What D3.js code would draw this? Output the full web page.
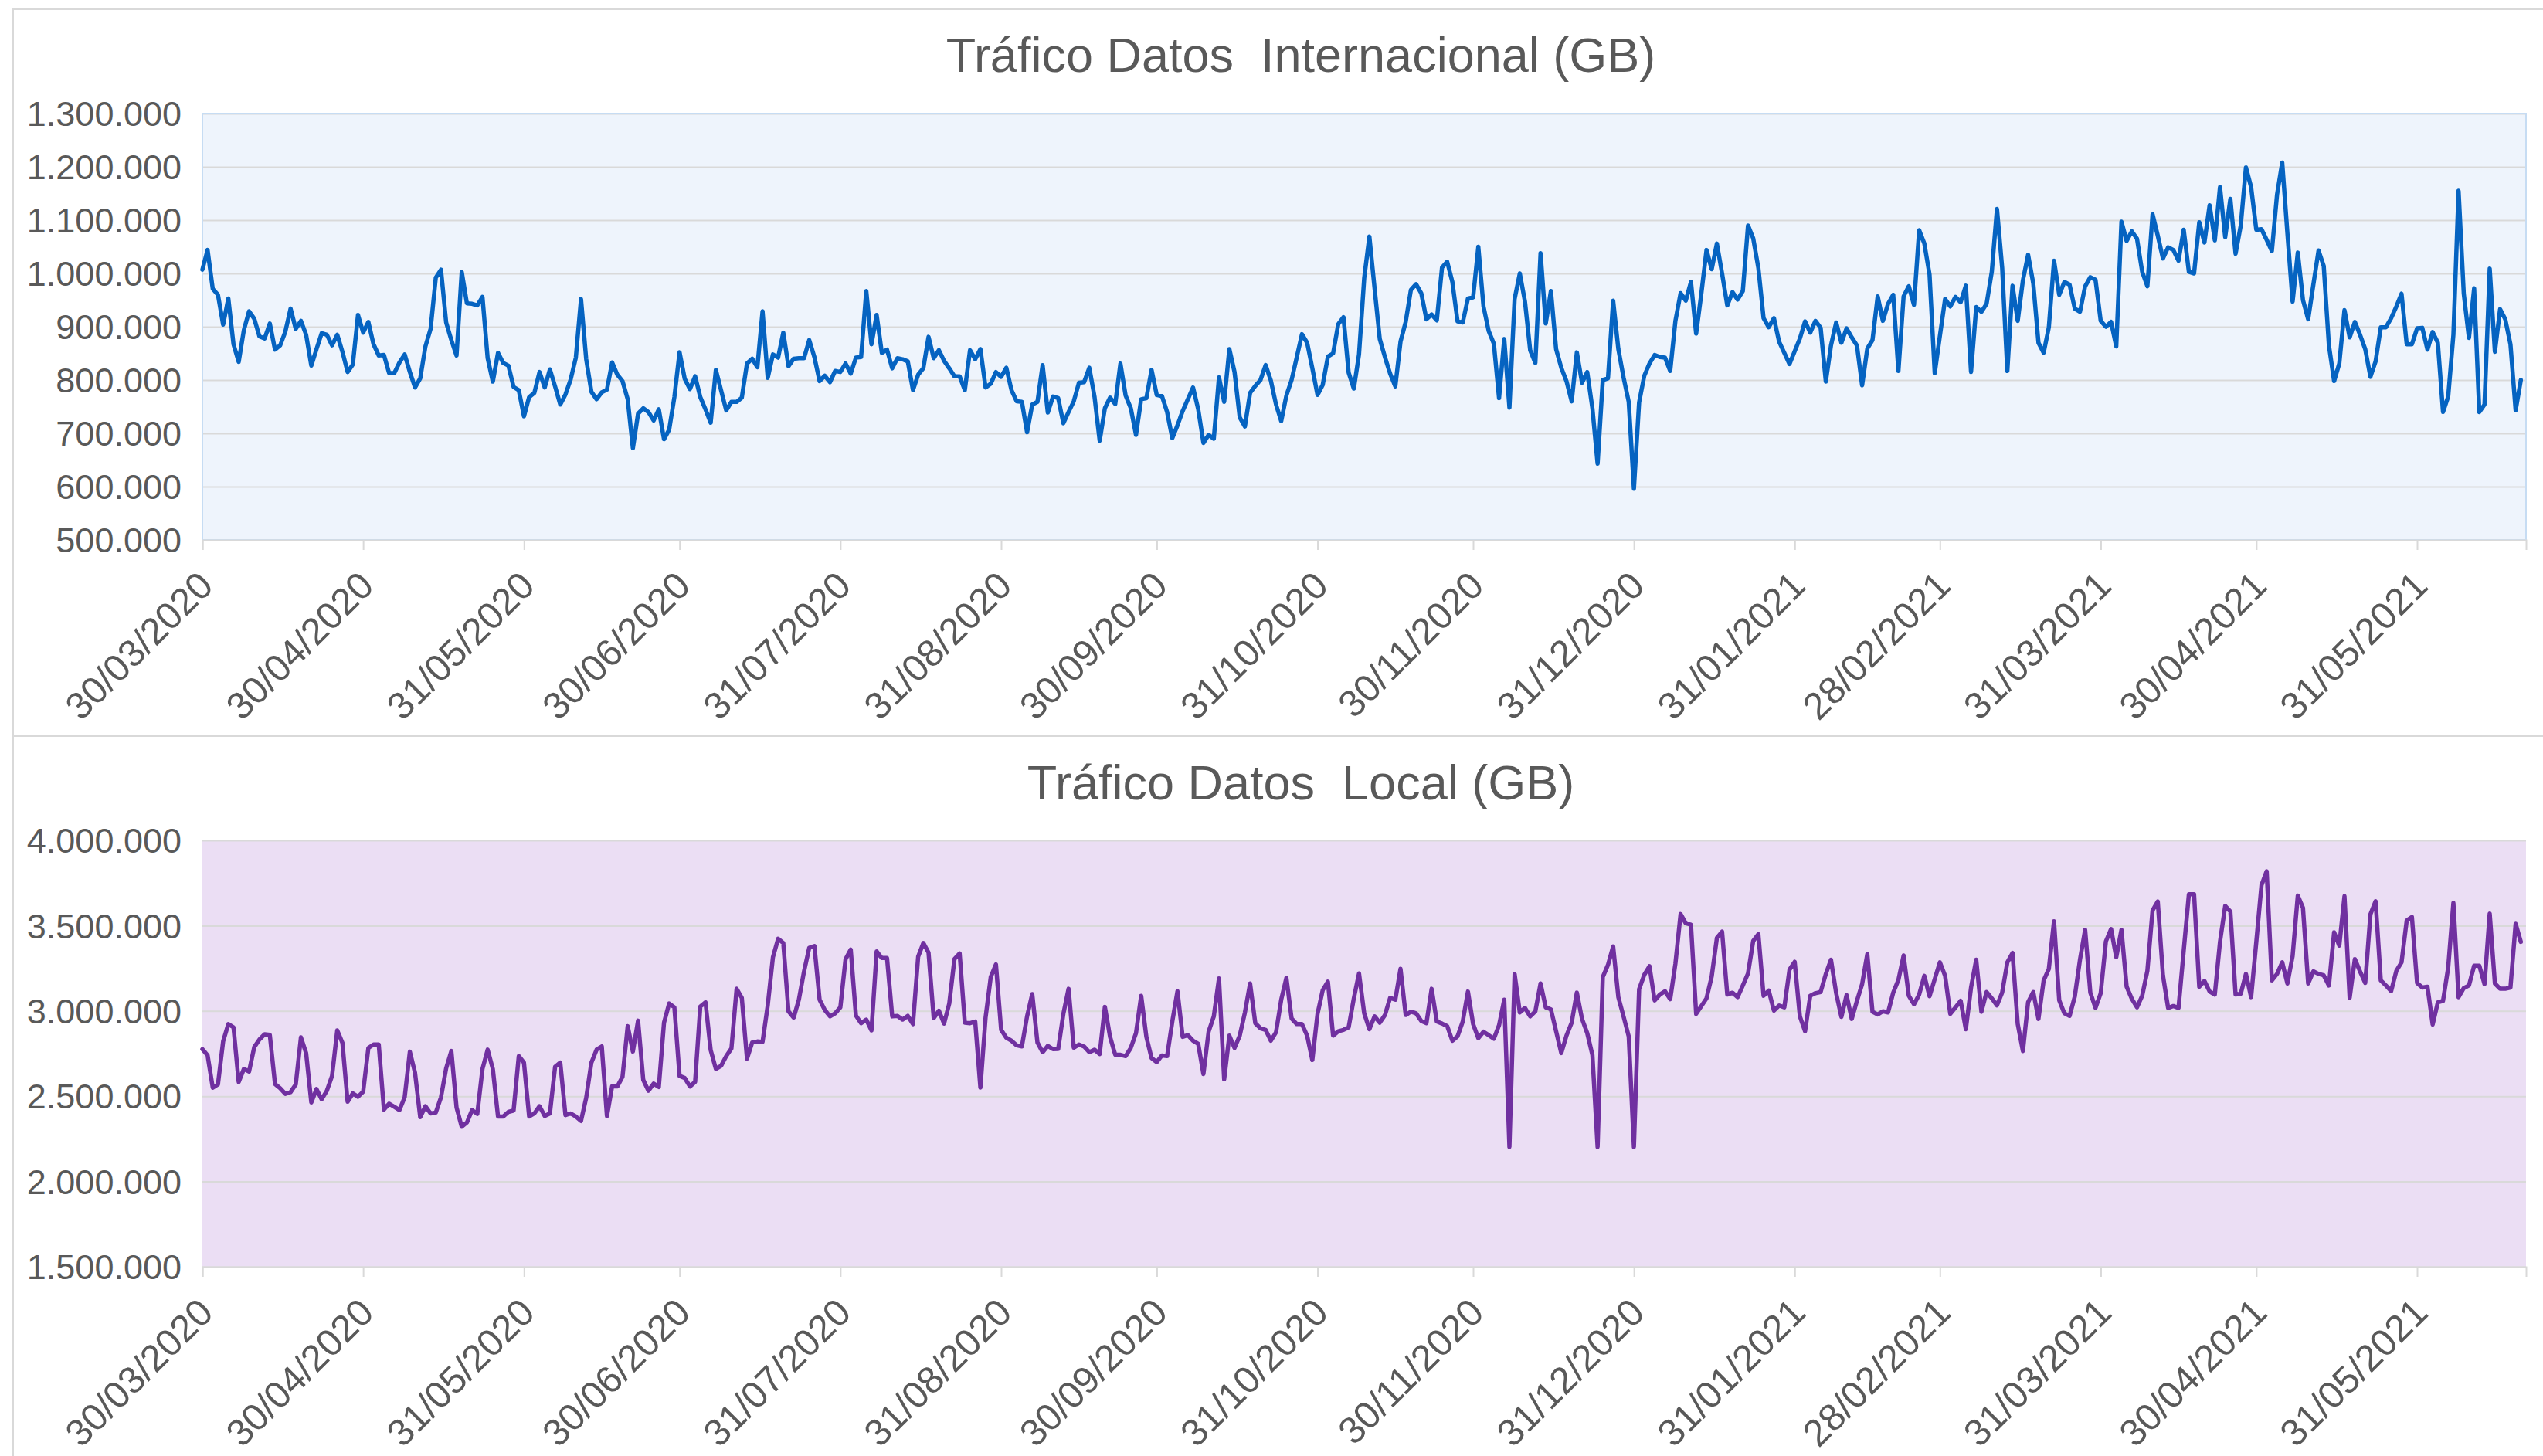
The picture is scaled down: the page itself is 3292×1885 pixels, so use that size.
<!DOCTYPE html>
<html>
<head>
<meta charset="utf-8">
<script src="https://cdn.jsdelivr.net/npm/d3@7"></script>
<style>
  body { margin: 0; background: #fff; }
  text { font-family: "Liberation Sans", Arial, sans-serif; fill: #595959; }
</style>
</head>
<body>
<div id="chart"></div>
<script>
// fechas: un valor por dia desde startDate
var startDate = "30/03/2020"
var endDate = "21/06/2021"
var xTickLabels = ["30/03/2020", "30/04/2020", "31/05/2020", "30/06/2020", "31/07/2020",
  "31/08/2020", "30/09/2020", "31/10/2020", "30/11/2020", "31/12/2020", "31/01/2021",
  "28/02/2021", "31/03/2021", "30/04/2021", "31/05/2021"]

var intlTicks = [500000, 600000, 700000, 800000, 900000, 1000000, 1100000, 1200000, 1300000]
var localTicks = [1500000, 2000000, 2500000, 3000000, 3500000, 4000000]

// miles de GB
var intlTraffic = [
  1007,1044,971,960,904,953,867,834,894,929,
  915,882,878,906,857,865,891,934,896,911,
  885,827,858,888,885,865,885,853,815,829,
  922,889,909,867,846,847,813,813,833,848,
  815,786,803,863,896,992,1007,908,875,846,
  1003,944,943,940,956,841,797,851,832,827,
  787,781,732,768,776,815,786,820,788,754,
  773,801,842,952,839,778,764,777,782,833,
  810,798,764,672,737,747,740,724,745,689,
  707,768,852,802,783,807,768,745,720,819,
  781,743,759,759,767,831,840,824,929,804,
  848,842,889,
  826,840,841,841,875,843,798,808,796,817,
  815,831,812,842,843,967,867,922,851,857,
  822,841,839,835,781,810,822,881,841,856,
  836,822,807,807,781,856,839,858,786,793,
  815,806,823,781,760,759,702,754,759,828,
  739,769,766,719,740,760,795,796,823,769,
  686,747,767,755,831,771,747,697,764,766,
  819,772,770,740,691,715,742,764,786,745,
  682,697,690,805,759,858,815,730,713,776,
  789,800,828,799,754,723,771,800,843,886,
  870,822,772,791,844,850,905,918,814,
  784,848,991,1069,972,877,843,812,788,872,
  909,969,980,963,914,923,912,1011,1022,984,
  910,908,953,955,1050,938,892,868,766,877,
  748,952,1000,947,856,832,1038,906,967,858,
  823,798,760,852,795,815,747,643,800,803,
  949,858,805,759,596,758,808,831,847,843,
  842,817,911,963,949,984,887,962,1044,1008,
  1056,1000,940,965,951,967,1090,1066,1010,916,
  899,916,872,851,830,854,878,910,889,911,
  898,797,865,908,870,897,880,865,790,859,
  875,957,911,943,960,817,957,976,941,1081,
  1056,998,
  813,883,952,938,956,946,977,815,937,928,
  943,1003,1121,1011,817,977,911,987,1035,981,
  870,851,899,1024,960,984,979,934,928,976,
  993,988,911,900,909,863,1097,1061,1079,1065,
  1003,976,1111,1071,1028,1049,1044,1024,1082,1003,
  1000,1096,1058,1128,1062,1162,1068,1140,1037,1090,
  1199,1162,1082,1083,1063,1042,1148,1208,1075,947,
  1039,950,914,979,1043,1014,865,798,831,931,
  880,909,885,858,806,835,899,899,916,938,
  962,867,867,897,898,857,890,870,740,769,
  885,1155,962,879,972,740,754,1009,853,933,
  914,867,743,800
]

var localTraffic = [
  2776,2740,2550,2569,2822,2923,2904,2584,2660,2645,
  2788,2833,2863,2860,2572,2547,2514,2524,2569,2845,
  2753,2464,2542,2482,2532,2619,2886,2813,2468,2517,
  2497,2527,2783,2803,2803,2422,2456,2438,2419,2494,
  2761,2637,2377,2441,2399,2404,2494,2664,2765,2434,
  2321,2346,2419,2396,2660,2773,2660,2381,2381,2408,
  2416,2735,2697,2381,2399,2441,2384,2399,2672,2697,
  2389,2399,2381,2355,2491,2697,2773,2792,2384,2559,
  2557,2614,2911,2762,2943,2596,2532,2574,2554,2931,
  3044,3021,2619,2607,2557,2584,3026,3051,2770,2660,
  2678,2735,2780,3130,3077,2720,2815,2821,2818,3032,
  3315,3423,3398,
  2998,2961,3066,3232,3370,3380,3066,3006,2968,2986,
  3021,3303,3360,2973,2928,2949,2886,3349,3310,3310,
  2968,2971,2949,2971,2923,3318,3398,3342,2958,3001,
  2926,3044,3304,3337,2931,2928,2938,2551,2961,3199,
  3273,2889,2843,2825,2798,2792,2968,3099,2815,2758,
  2795,2776,2777,2983,3130,2785,2803,2791,2758,2773,
  2747,3024,2848,2743,2743,2735,2783,2870,3089,2848,
  2724,2700,2739,2735,2938,3116,2848,2858,2825,2807,
  2630,2878,2968,3190,2599,2855,2783,2855,2991,3161,
  2928,2898,2889,2825,2875,3066,3194,2956,2923,2923,
  2855,2712,2983,3122,3172,2855,2881,2889,2904,3074,
  3220,
  2986,2893,2968,2931,2976,3077,3066,3247,2976,2996,
  2986,2941,2928,3130,2938,2926,2911,2825,2851,2938,
  3114,2923,2840,2878,2858,2837,2916,3066,2203,3217,
  2991,3018,2968,2998,3161,3021,3009,2881,2753,2855,
  2931,3108,2953,2870,2742,2203,3199,3270,3378,3081,
  2968,2851,2203,3127,3212,3262,3062,3096,3116,3069,
  3277,3568,3514,3506,2983,3029,3074,3202,3428,3465,
  3096,3107,3081,3149,3220,3410,3450,3089,3119,3002,
  3032,3021,3242,3288,2968,2881,3089,3104,3111,3217,
  3300,3104,2965,3093,2953,3059,3157,3333,2995,2979,
  2998,2991,3108,3182,3325,3089,3039,3096,3206,3086,
  3187,3285,
  3206,2983,3021,3059,2893,3137,3300,2995,3111,3074,
  3033,3108,3285,3340,2923,2765,3051,3111,2953,3179,
  3247,3526,3063,2986,2971,3084,3300,3476,3107,3018,
  3104,3408,3480,3315,3476,3142,3071,3021,3089,3236,
  3590,3642,3209,3017,3029,3017,3352,3684,3684,3142,
  3176,3114,3096,3405,3616,3583,3096,3101,3217,3081,
  3405,3737,3819,3179,3217,3285,3161,3322,3676,3604,
  3161,3232,3217,3209,3149,3461,3383,3673,3077,3304,
  3232,3164,3566,3643,3179,3149,3116,3235,3285,3530,
  3551,3164,3137,3142,2920,3051,3059,3255,3634,3081,
  3134,3149,3265,3265,3157,3571,3161,3130,3130,3137,
  3511,3405
]

var W = 3292, H = 1885
var parseDate = d3.utcParse("%d/%m/%Y")
var fmtDate = d3.utcFormat("%d/%m/%Y")
var es = d3.formatLocale({decimal: ",", thousands: ".", grouping: [3], currency: ["", " €"]})
var fmtNum = es.format(",.0f")

var start = parseDate(startDate)
var dates = intlTraffic.map((d, i) => d3.utcDay.offset(start, i))

var x = d3.scaleUtc()
  .domain([start, parseDate(endDate)])
  .range([262, 3270])

var svg = d3.select("#chart").append("svg")
  .attr("width", W)
  .attr("height", H)

var panels = [
  { title: "Tráfico Datos  Internacional (GB)", values: intlTraffic, ticks: intlTicks,
    boxTop: 12, boxBottom: 953, titleY: 93, top: 147, bottom: 699,
    fill: "#EEF4FC", border: "#C6DCF3", color: "#0563C1" },
  { title: "Tráfico Datos  Local (GB)", values: localTraffic, ticks: localTicks,
    boxTop: 953, boxBottom: 1960, titleY: 1035, top: 1088, bottom: 1640,
    fill: "#EBDEF4", border: "none", color: "#7030A0" }
]

panels.forEach(function (p) {
  var g = svg.append("g")

  // chart box
  g.append("rect")
    .attr("x", 17).attr("y", p.boxTop)
    .attr("width", W).attr("height", p.boxBottom - p.boxTop)
    .attr("fill", "#fff")
    .attr("stroke", "#D9D9D9")
    .attr("stroke-width", 2)

  g.append("text")
    .attr("x", 1684).attr("y", p.titleY)
    .attr("text-anchor", "middle")
    .style("white-space", "pre")
    .style("font-size", "63px")
    .text(p.title)

  var y = d3.scaleLinear()
    .domain(d3.extent(p.ticks))
    .range([p.bottom, p.top])

  // plot area
  g.append("rect")
    .attr("x", x.range()[0]).attr("y", p.top)
    .attr("width", x.range()[1] - x.range()[0])
    .attr("height", p.bottom - p.top)
    .attr("fill", p.fill)

  var yAxis = g.append("g")
    .attr("transform", `translate(${x.range()[0]},0)`)
    .call(d3.axisLeft(y)
      .tickValues(p.ticks)
      .tickSize(-(x.range()[1] - x.range()[0]))
      .tickPadding(27)
      .tickFormat(fmtNum))
  yAxis.select(".domain").remove()
  yAxis.selectAll(".tick line")
    .attr("stroke", "#D9D9D9")
    .attr("stroke-width", 2)
  yAxis.selectAll(".tick text")
    .attr("dy", "0.35em")
    .style("font-size", "45px")

  if (p.border != "none") {
    g.append("rect")
      .attr("x", x.range()[0]).attr("y", p.top)
      .attr("width", x.range()[1] - x.range()[0])
      .attr("height", p.bottom - p.top)
      .attr("fill", "none")
      .attr("stroke", p.border)
      .attr("stroke-width", 2)
  }

  var xAxis = g.append("g")
    .attr("transform", `translate(0,${p.bottom})`)
    .call(d3.axisBottom(x)
      .tickValues(xTickLabels.map(parseDate))
      .tickSize(13)
      .tickFormat(fmtDate))
  xAxis.select(".domain")
    .attr("stroke", "#D9D9D9")
    .attr("stroke-width", 2)
  xAxis.selectAll(".tick line")
    .attr("stroke", "#D9D9D9")
    .attr("stroke-width", 2)
  xAxis.selectAll(".tick text")
    .attr("x", 0).attr("y", 0).attr("dy", null)
    .attr("text-anchor", "end")
    .attr("transform", "translate(16,62) rotate(-45)")
    .style("font-size", "49px")

  var line = d3.line()
    .x((d, i) => x(dates[i]))
    .y(d => y(d * 1000))

  g.append("path")
    .datum(p.values)
    .attr("d", line)
    .attr("fill", "none")
    .attr("stroke", p.color)
    .attr("stroke-width", 5.5)
    .attr("stroke-linejoin", "round")
    .attr("stroke-linecap", "round")
})
</script>
</body>
</html>
